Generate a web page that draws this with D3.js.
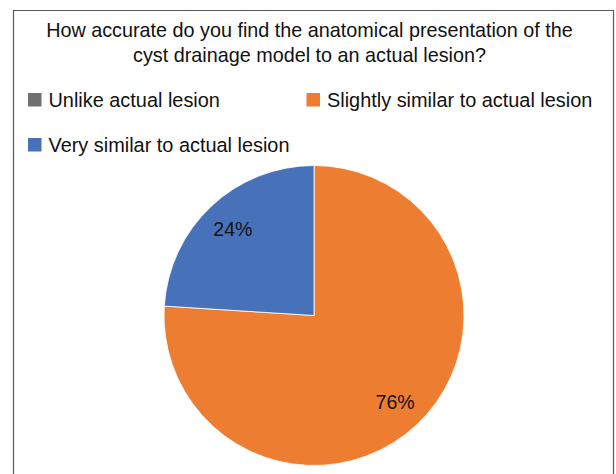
<!DOCTYPE html>
<html>
<head>
<meta charset="utf-8">
<script src="https://cdn.jsdelivr.net/npm/d3@7"></script>
<style>
  html, body { margin: 0; padding: 0; background: #fff; }
  svg { display: block; }
  text { font-family: "Liberation Sans", Arial, sans-serif; fill: #111; }
</style>
</head>
<body>
<svg id="chart" width="616" height="474"></svg>
<script>
// Survey responses (percent of respondents)
const categories = ["Unlike actual lesion", "Slightly similar to actual lesion", "Very similar to actual lesion"];
const values = [0, 76, 24];
const colors = ["#707070", "#ED7D31", "#4771B8"];
const titleLines = [
  "How accurate do you find the anatomical presentation of the",
  "cyst drainage model to an actual lesion?"
];

const svg = d3.select("#chart");
const W = 616, H = 474;

// Chart frame (open at the bottom edge of the view)
svg.append("path")
  .attr("d", `M13.5,${H + 5} V10.5 H613.5 V${H + 5}`)
  .attr("fill", "none")
  .attr("stroke", "#5a5a5a")
  .attr("stroke-width", 1.2);

// Title
svg.append("g").selectAll("text")
  .data(titleLines)
  .join("text")
  .attr("x", 309.5)
  .attr("y", (d, i) => 37 + i * 25)
  .attr("text-anchor", "middle")
  .attr("font-size", 19.8)
  .text(d => d);

// Legend
const legendPos = [[28, 93], [306.5, 93], [28, 138]];
const legend = svg.append("g").selectAll("g")
  .data(categories)
  .join("g")
  .attr("transform", (d, i) => `translate(${legendPos[i][0]},${legendPos[i][1]})`);
legend.append("rect")
  .attr("width", 13.5).attr("height", 13.5)
  .attr("fill", (d, i) => colors[i]);
legend.append("text")
  .attr("x", 20.5)
  .attr("y", 14)
  .attr("font-size", 19.9)
  .text(d => d);

// Pie
const cx = 314, cy = 315.5, r = 150;
const pie = d3.pie().sort(null).value(d => d.value);
const slices = pie(categories.map((c, i) => ({ name: c, value: values[i], color: colors[i] })));
const arc = d3.arc().innerRadius(0).outerRadius(r);
const labelArc = d3.arc().innerRadius(118.5).outerRadius(118.5);

const g = svg.append("g").attr("transform", `translate(${cx},${cy})`);
g.selectAll("path")
  .data(slices.filter(s => s.data.value > 0))
  .join("path")
  .attr("d", arc)
  .attr("fill", d => d.data.color)
  .attr("stroke", "#fff")
  .attr("stroke-width", 0.8);

g.selectAll("text")
  .data(slices.filter(s => s.data.value > 0))
  .join("text")
  .attr("transform", d => `translate(${labelArc.centroid(d)})`)
  .attr("text-anchor", "middle")
  .attr("dy", "0.36em")
  .attr("font-size", 19.5)
  .text(d => d.data.value + "%");
</script>
</body>
</html>
